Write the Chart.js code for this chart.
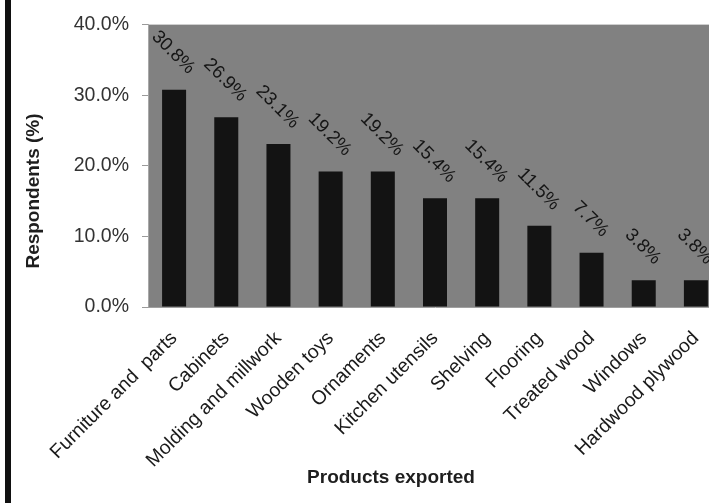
<!DOCTYPE html>
<html>
<head>
<meta charset="utf-8">
<script src="https://cdn.jsdelivr.net/npm/chart.js@4.4.0/dist/chart.umd.min.js"></script>
<style>
  html, body { margin: 0; padding: 0; background: #fff; }
  #frame { position: relative; width: 709px; height: 503px; overflow: hidden; background: #fff; }
  #edge { position: absolute; left: 5px; top: 0; width: 6px; height: 503px; background: #111; }
  #chart { position: absolute; left: 0; top: 0; }
</style>
</head>
<body>
<div id="frame">
  <canvas id="chart" width="730" height="503"></canvas>
  <div id="edge"></div>
</div>
<script>
const products = [
  'Furniture and  parts', 'Cabinets', 'Molding and millwork', 'Wooden toys',
  'Ornaments', 'Kitchen utensils', 'Shelving', 'Flooring', 'Treated wood',
  'Windows', 'Hardwood plywood'
]
const respondents = [30.8, 26.9, 23.1, 19.2, 19.2, 15.4, 15.4, 11.5, 7.7, 3.8, 3.8]
const yMin = 0
const yMax = 40
const yStep = 10

const FONT = '"Liberation Sans", Arial, sans-serif'

// grey plot background
const plotBackground = {
  id: 'plotBackground',
  beforeDraw(chart) {
    const { ctx, chartArea: a } = chart
    ctx.save()
    ctx.fillStyle = '#818181'
    ctx.fillRect(a.left, a.top, a.right - a.left, a.bottom - a.top)
    ctx.restore()
  }
}

// slanted value labels above each bar
const valueLabels = {
  id: 'valueLabels',
  afterDatasetsDraw(chart) {
    const { ctx } = chart
    const meta = chart.getDatasetMeta(0)
    const size = 18.5
    ctx.save()
    ctx.font = size + 'px ' + FONT
    ctx.fillStyle = '#151515'
    ctx.textAlign = 'center'
    ctx.textBaseline = 'middle'
    meta.data.forEach((bar, i) => {
      const text = respondents[i].toFixed(1) + '%'
      const w = ctx.measureText(text).width
      const half = (w + size) * Math.SQRT1_2 / 2
      ctx.save()
      ctx.translate(bar.x - 1, bar.y - 12 - half)
      ctx.rotate(Math.PI / 4)
      ctx.fillText(text, 0, 0)
      ctx.restore()
    })
    ctx.restore()
  }
}

// axis titles
const axisTitles = {
  id: 'axisTitles',
  afterDraw(chart) {
    const { ctx } = chart
    ctx.save()
    ctx.font = 'bold 19px ' + FONT
    ctx.fillStyle = '#1e1e1e'
    ctx.textAlign = 'center'
    ctx.textBaseline = 'middle'
    ctx.fillText('Products exported', 391, 478)
    ctx.translate(34, 191)
    ctx.rotate(-Math.PI / 2)
    ctx.fillText('Respondents (%)', 0, 0)
    ctx.restore()
  }
}

new Chart(document.getElementById('chart').getContext('2d'), {
  type: 'bar',
  data: {
    labels: products,
    datasets: [{
      data: respondents,
      backgroundColor: '#131313',
      borderWidth: 0,
      barPercentage: 0.46,
      categoryPercentage: 1
    }]
  },
  options: {
    responsive: false,
    animation: false,
    layout: { padding: { left: 0, top: 22, right: 8, bottom: 0 } },
    plugins: {
      legend: { display: false },
      tooltip: { enabled: false }
    },
    scales: {
      y: {
        min: yMin,
        max: yMax,
        afterFit(scale) { scale.width = 148 },
        ticks: {
          stepSize: yStep,
          padding: 13,
          color: '#333',
          font: { family: FONT, size: 19.5 },
          callback: v => v.toFixed(1) + '%'
        },
        grid: {
          drawOnChartArea: true,
          tickLength: 6,
          tickColor: '#9a9a9a',
          color: ctx => ctx.tick && ctx.tick.value === yMax ? '#cfcfcf' : 'rgba(0,0,0,0)'
        },
        border: { color: '#a8a8a8' }
      },
      x: {
        afterFit(scale) {
          scale.height = 196
          // the slanted labels hang left, nothing needed on the right
          scale.paddingRight = 0
        },
        ticks: {
          minRotation: 45,
          maxRotation: 45,
          autoSkip: false,
          padding: 20,
          color: '#1a1a1a',
          font: { family: FONT, size: 19.5 }
        },
        grid: { display: false, drawTicks: false },
        border: { color: '#a0a0a0' }
      }
    }
  },
  plugins: [plotBackground, valueLabels, axisTitles]
})
</script>
</body>
</html>
